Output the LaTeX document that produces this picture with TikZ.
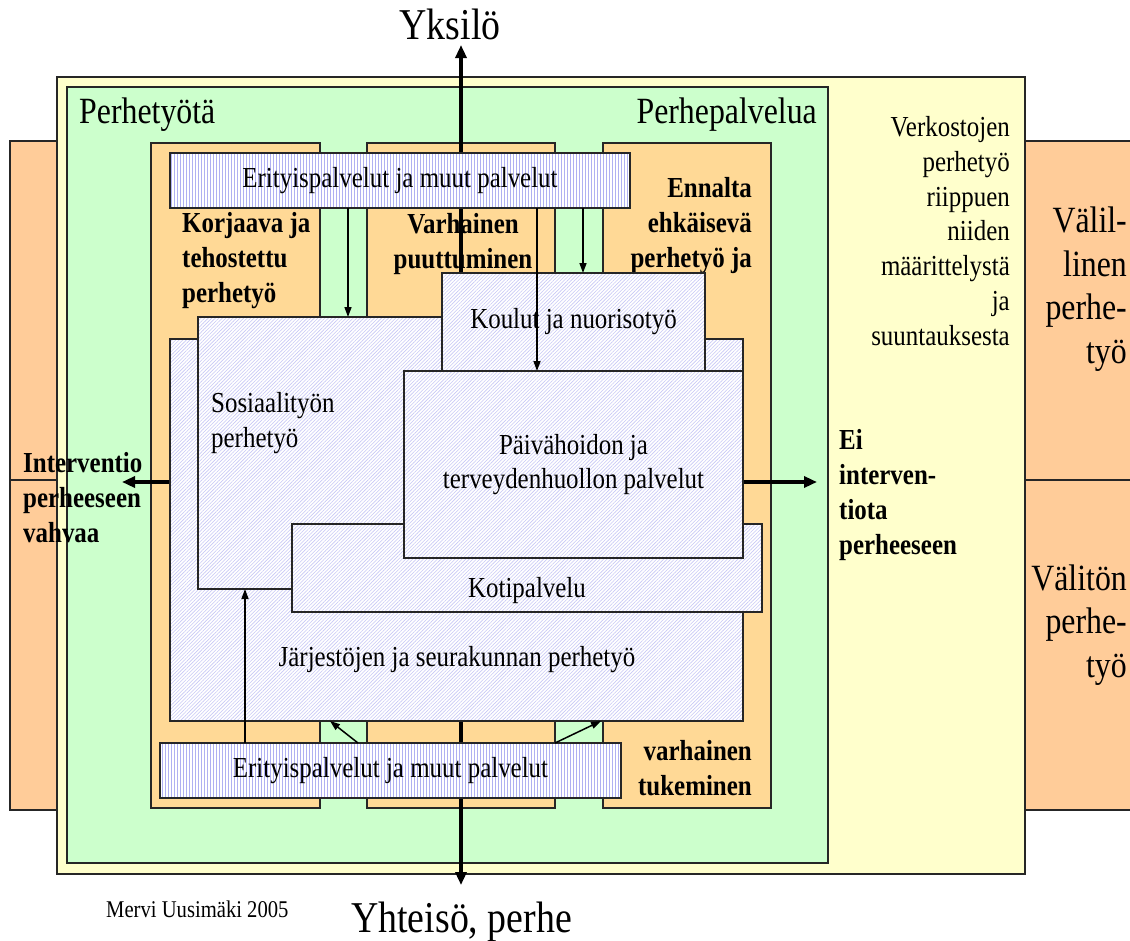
\documentclass[tikz,border=0pt]{standalone}
\usepackage{fontspec}
\setmainfont{Liberation Serif}[FakeStretch=0.86]
\usetikzlibrary{positioning,arrows.meta,patterns.meta}
\definecolor{paleyellow}{RGB}{255,255,204}
\definecolor{palegreen}{RGB}{204,255,204}
\definecolor{salmon}{RGB}{255,204,153}
\definecolor{apricot}{RGB}{255,217,150}
\definecolor{stripeblue}{RGB}{176,176,242}
\definecolor{hatchblue}{RGB}{200,200,246}

\tikzset{
  frame/.style={draw=black!85, line width=1.2pt},
  service/.style={frame, anchor=north west, inner sep=0pt, outer sep=0pt, preaction={fill=white}},
  striped/.style={service, pattern={Lines[angle=90,distance=3pt,line width=0.9pt]}, pattern color=stripeblue},
  hatched/.style={service, pattern={Lines[angle=45,distance=2.5pt,line width=0.6pt]}, pattern color=hatchblue},
  txt/.style={font=\fontsize{29}{34.7}\selectfont, inner sep=0pt},
  boldtxt/.style={font=\fontsize{29}{34.7}\selectfont\bfseries, inner sep=0pt},
  bigtxt/.style={font=\fontsize{37}{43.5}\selectfont, inner sep=0pt},
  axis/.style={line width=3.2pt, {Triangle[length=13pt,width=11pt]}-{Triangle[length=13pt,width=11pt]}},
  thinarrow/.style={line width=1.5pt, -{Triangle[length=10pt,width=7pt]}}
}

\begin{document}
\begin{tikzpicture}[x=1pt, y=-1pt]
	\useasboundingbox (0,0) rectangle (1130,940);
	\fill[white] (0,0) rectangle (1130,940);
	% side bands
	\draw[frame, fill=salmon] (10,141) rectangle (57,480);
	\draw[frame, fill=salmon] (10,480) rectangle (57,810);
	\draw[frame, fill=salmon] (1025,141) rectangle (1140,480);
	\draw[frame, fill=salmon] (1025,480) rectangle (1140,810);
	\draw[frame, fill=paleyellow] (57,77) rectangle (1025,874);
	\draw[frame, fill=palegreen] (67,87) rectangle (828,863);
	\foreach \l/\r in {151/320, 367/555, 603/771}
	\draw[frame, fill=apricot] (\l,143) rectangle (\r,808);

	% axes
	\coordinate (ytop) at (461,45);
	\coordinate (ybot) at (461,885);
	\coordinate (xleft) at (122,482);
	\coordinate (xright) at (817,482);
	\draw[axis] (ybot) -- (ytop);
	\draw[axis] (xleft) -- (xright);

	\node[font=\fontsize{44}{50}\selectfont, inner sep=0pt, anchor=base] (yksilo) at (450,39) {Yksilö};
	\node[font=\fontsize{44}{50}\selectfont, inner sep=0pt, anchor=base west] (yhteiso) at (351,932) {Yhteisö, perhe};
	\node[font=\fontsize{24}{28}\selectfont, inner sep=0pt, anchor=base west] (tekija) at (106,917) {Mervi Uusimäki 2005};
	\node[bigtxt, anchor=base west] (perhetyota) at (79,123) {Perhetyötä};
	\node[bigtxt, anchor=base east] (perhepalvelua) at (817,123) {Perhepalvelua};

	% base = last line
	\node[boldtxt, align=left, anchor=base west] (korjaava) at (182,302) {Korjaava ja\\tehostettu\\perhetyö};
	\node[boldtxt, align=center, anchor=base] (varhainen) at (463,268) {Varhainen\\puuttuminen};
	\node[boldtxt, align=right, anchor=base east] (ennalta) at (752,267) {Ennalta\\ehkäisevä\\perhetyö ja};
	\node[boldtxt, align=right, anchor=base east] (tukeminen) at (752,795) {varhainen\\tukeminen};

	\node[txt, align=right, anchor=base east] (verkostot) at (1010,345) {Verkostojen\\perhetyö\\riippuen\\niiden\\määrittelystä\\ja\\suuntauksesta};
	\node[bigtxt, align=right, anchor=base east] (valillinen) at (1127,363) {Välil-\\linen\\perhe-\\työ};
	\node[bigtxt, align=right, anchor=base east] (valiton) at (1127,677) {Välitön\\perhe-\\työ};
	\node[boldtxt, align=left, anchor=base west] (interventio) at (23,542) {Interventio\\perheeseen\\vahvaa};
	\node[boldtxt, align=left, anchor=base west] (eiinterventiota) at (839,554) {Ei\\interven-\\tiota\\perheeseen};

	% service boxes
	\node[hatched, minimum width=573, minimum height=382] (jarjestot) at (170,339) {};
	\node[hatched, minimum width=362, minimum height=272] (sosiaali) at (198,317) {};
	\node[hatched, txt, minimum width=263, minimum height=98] (koulut) at (442,273) {Koulut ja nuorisotyö};
	\node[hatched, minimum width=470, minimum height=88] (koti) at (292,524) {};
	\node[hatched, txt, align=center, minimum width=339, minimum height=187] (paiva) at (404,371) {Päivähoidon ja\\terveydenhuollon palvelut};
	\node[striped, txt, minimum width=460, minimum height=55] (erityis) at (170,153) {Erityispalvelut ja muut palvelut};
	\node[striped, txt, minimum width=461, minimum height=55] (erityisala) at (160,743) {Erityispalvelut ja muut palvelut};
	\node[txt, anchor=base] (jarjestotxt) at (457,666) {Järjestöjen ja seurakunnan perhetyö};
	\node[txt, align=left, anchor=base west] (sosiaalitxt) at (211,447) {Sosiaalityön\\perhetyö};
	\node[txt, anchor=base] (kotitxt) at (527,597) {Kotipalvelu};

	\draw[thinarrow] (348,0 |- erityis.south) -- (348,0 |- sosiaali.north);
	\draw[thinarrow] (537,0 |- erityis.south) -- (537,0 |- paiva.north);
	\draw[thinarrow] (583,0 |- erityis.south) -- (583,0 |- koulut.north);
	\draw[thinarrow] (245,0 |- erityisala.north) -- (245,0 |- sosiaali.south);
	\draw[thinarrow] (358,0 |- erityisala.north) -- (330,0 |- jarjestot.south);
	\draw[thinarrow] (555,0 |- erityisala.north) -- (601,0 |- jarjestot.south);
\end{tikzpicture}
\end{document}
